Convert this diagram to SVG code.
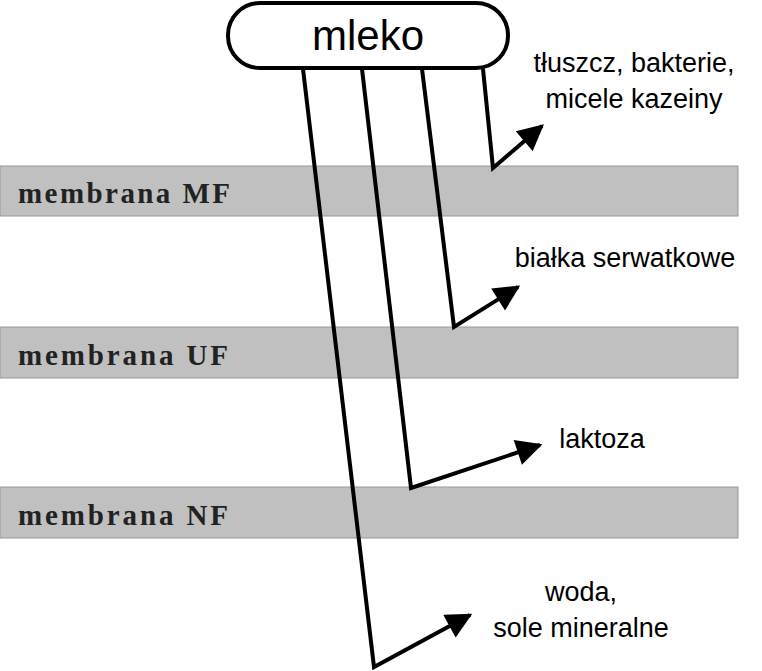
<svg xmlns="http://www.w3.org/2000/svg" width="762" height="671" viewBox="0 0 762 671">
<style>
.band{fill:#c0c0c0;stroke:#999;stroke-width:1}
.bl{font-family:"Liberation Serif",serif;font-weight:bold;font-size:29px;fill:#222}
.t{font-family:"Liberation Sans",Arial,sans-serif;font-size:27px;fill:#000}
.c{fill:none;stroke:#000;stroke-width:4;stroke-linejoin:miter}
</style>
<defs><marker id="a" viewBox="0 0 10 10" refX="9" refY="5" markerWidth="7" markerHeight="6.5" orient="auto" markerUnits="strokeWidth"><path d="M0,0L10,5L0,10z" fill="#000"/></marker></defs>
<g id="mf"><rect class="band" x="0" y="166" width="738" height="50"/><text class="bl" x="18" y="203" textLength="212" lengthAdjust="spacing">membrana MF</text></g>
<g id="uf"><rect class="band" x="0" y="327" width="738" height="51"/><text class="bl" x="18" y="365" textLength="210" lengthAdjust="spacing">membrana UF</text></g>
<g id="nf"><rect class="band" x="0" y="487" width="738" height="51"/><text class="bl" x="18" y="525" textLength="210" lengthAdjust="spacing">membrana NF</text></g>
<g id="connectors">
<path class="c" d="M303,69L374,667L470,615" marker-end="url(#a)"/>
<path class="c" d="M362,69L411,488L540,445" marker-end="url(#a)"/>
<path class="c" d="M422,69L454,327L518,287" marker-end="url(#a)"/>
<path class="c" d="M483,69L493,168L542,126" marker-end="url(#a)"/>
</g>
<g id="mleko"><rect x="228" y="3" width="280" height="65" rx="32" fill="#fff" stroke="#000" stroke-width="4"/><text class="t" x="368" y="50" text-anchor="middle" style="font-size:42px">mleko</text></g>
<g id="labels">
<text class="t" x="634" y="72" text-anchor="middle">tłuszcz, bakterie,</text>
<text class="t" x="634" y="108" text-anchor="middle">micele kazeiny</text>
<text class="t" x="625" y="267" text-anchor="middle">białka serwatkowe</text>
<text class="t" x="602" y="448" text-anchor="middle">laktoza</text>
<text class="t" x="581" y="601" text-anchor="middle">woda,</text>
<text class="t" x="581" y="637" text-anchor="middle">sole mineralne</text>
</g>
</svg>
